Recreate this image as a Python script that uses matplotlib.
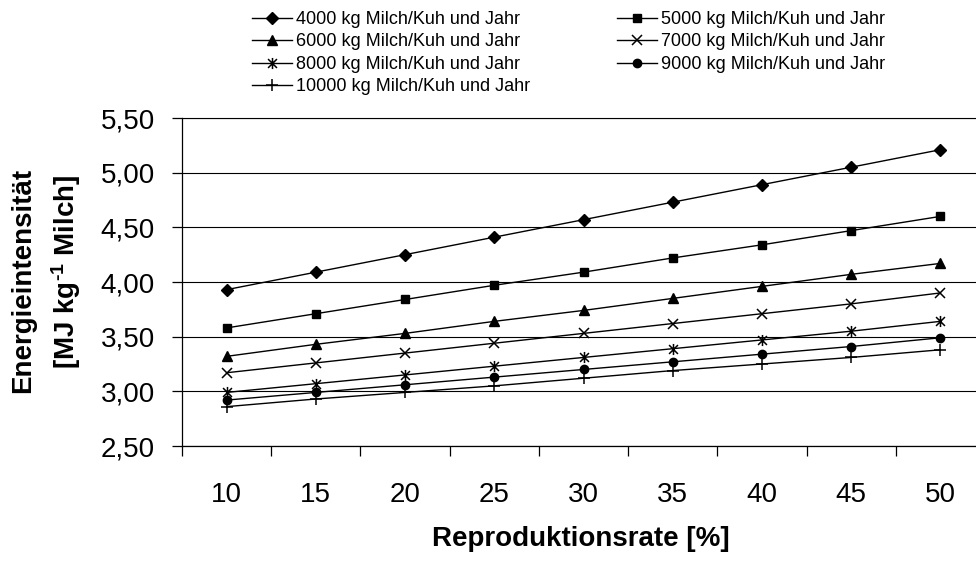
import matplotlib
matplotlib.use("Agg")
import matplotlib.pyplot as plt
from matplotlib.path import Path
from matplotlib.ticker import FixedLocator, FuncFormatter, NullFormatter

plt.rcParams['font.family'] = ['Liberation Sans', 'DejaVu Sans']
plt.rcParams['mathtext.fontset'] = 'custom'
plt.rcParams['mathtext.rm'] = 'Liberation Sans:bold'
plt.rcParams['mathtext.bf'] = 'Liberation Sans:bold'
plt.rcParams['mathtext.it'] = 'Liberation Sans:bold'

categories = [10, 15, 20, 25, 30, 35, 40, 45, 50]
series_names = [
    "4000 kg Milch/Kuh und Jahr",
    "5000 kg Milch/Kuh und Jahr",
    "6000 kg Milch/Kuh und Jahr",
    "7000 kg Milch/Kuh und Jahr",
    "8000 kg Milch/Kuh und Jahr",
    "9000 kg Milch/Kuh und Jahr",
    "10000 kg Milch/Kuh und Jahr",
]
s4000 = [3.93, 4.09, 4.25, 4.41, 4.57, 4.73, 4.89, 5.05, 5.21]
s5000 = [3.58, 3.71, 3.84, 3.97, 4.09, 4.22, 4.34, 4.47, 4.60]
s6000 = [3.32, 3.43, 3.53, 3.64, 3.74, 3.85, 3.96, 4.07, 4.17]
s7000 = [3.17, 3.26, 3.35, 3.44, 3.53, 3.62, 3.71, 3.80, 3.90]
s8000 = [2.99, 3.07, 3.15, 3.23, 3.31, 3.39, 3.47, 3.55, 3.64]
s9000 = [2.92, 2.99, 3.06, 3.13, 3.20, 3.27, 3.34, 3.41, 3.49]
s10000 = [2.86, 2.93, 2.99, 3.05, 3.12, 3.19, 3.25, 3.31, 3.38]
y_ticks = [2.50, 3.00, 3.50, 4.00, 4.50, 5.00, 5.50]

asterisk = Path(
    [(-1, -1), (1, 1), (-1, 1), (1, -1), (0, -1.25), (0, 1.25)],
    [Path.MOVETO, Path.LINETO, Path.MOVETO, Path.LINETO, Path.MOVETO, Path.LINETO],
)

styles = [
    dict(marker='D', ms=6),
    dict(marker='s', ms=5.5),
    dict(marker='^', ms=7),
    dict(marker='x', ms=7, mew=1.1),
    dict(marker=asterisk, ms=8, mew=1.1),
    dict(marker='o', ms=6),
    dict(marker='+', ms=8, mew=1.1),
]
data = [s4000, s5000, s6000, s7000, s8000, s9000, s10000]

W, H = 976, 563
fig = plt.figure(figsize=(W / 100, H / 100), dpi=100)
ax_left, ax_right, ax_top, ax_bottom = 182, 985, 118, 446
ax = fig.add_axes([ax_left / W, 1 - ax_bottom / H, (ax_right - ax_left) / W, (ax_bottom - ax_top) / H])

xpos = list(range(len(categories)))
handles = []
for vals, name, st in zip(data, series_names, styles):
    h, = ax.plot(xpos, vals, color='black', lw=1.0, mfc='black', mec='black',
                 label=name, clip_on=False, **st)
    handles.append(h)

ax.set_xlim(-0.5, len(categories) - 0.5)
ax.set_ylim(2.5, 5.5)

ax.xaxis.set_major_locator(FixedLocator([i - 0.5 for i in range(len(categories) + 1)]))
ax.xaxis.set_major_formatter(NullFormatter())
ax.xaxis.set_minor_locator(FixedLocator(xpos))
ax.xaxis.set_minor_formatter(FuncFormatter(lambda v, p: str(categories[int(round(v))])))
ax.tick_params(axis='x', which='major', direction='out', length=7, width=0.9, color='black')
ax.tick_params(axis='x', which='minor', length=0, pad=26, labelsize=20)

ax.yaxis.set_major_locator(FixedLocator(y_ticks))
ax.yaxis.set_major_formatter(FuncFormatter(lambda v, p: f"{v:.2f}".replace('.', ',')))
ax.tick_params(axis='y', direction='out', length=7.5, width=0.9, pad=12, labelsize=20)

ax.grid(axis='y', color='black', lw=0.8)
ax.set_axisbelow(True)
ax.spines['right'].set_visible(False)
ax.spines['top'].set_linewidth(0.8)
ax.spines['left'].set_linewidth(0.9)
ax.spines['bottom'].set_linewidth(0.9)

fig.text((428 + 733) / 2 / W, 1 - 539 / H, "Reproduktionsrate [%]", ha='center', va='center',
         fontsize=20, fontweight='bold')
fig.text(23 / W, 1 - 280 / H, "Energieintensität", rotation=90, ha='center', va='center',
         fontsize=20, fontweight='bold')
fig.text(66 / W, 1 - 272 / H, r"[MJ kg$^{\text{-1}}$ Milch]", rotation=90, ha='center', va='center',
         fontsize=20, fontweight='bold')

order = [0, 2, 4, 6, 1, 3, 5]
leg = fig.legend([handles[i] for i in order], [series_names[i] for i in order],
                 loc='upper left', bbox_to_anchor=(252 / W, 1 - 11 / H), ncol=2,
                 frameon=False, fontsize=13, borderpad=0, borderaxespad=0,
                 handlelength=2.2, handletextpad=0.25, columnspacing=4.8, labelspacing=0.3)

fig.savefig('out.png', dpi=100)
